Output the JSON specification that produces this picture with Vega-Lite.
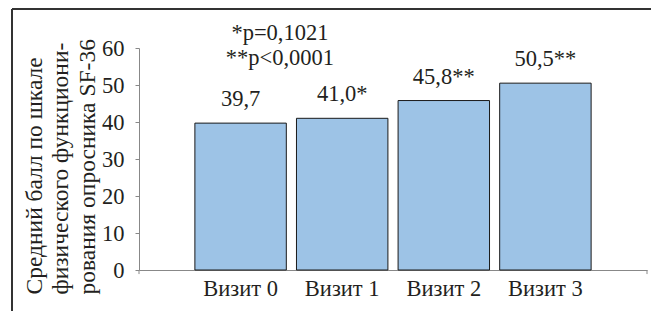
{
  "$schema": "https://vega.github.io/schema/vega-lite/v6.json",
  "width": 508,
  "height": 222,
  "padding": {"left": 11, "top": 8, "right": 0, "bottom": 0},
  "background": "white",
  "config": {
    "view": {"stroke": null},
    "font": "Liberation Serif",
    "axisY": {"values": [0, 10, 20, 30, 40, 50, 60], "tickCount": 7, "labelOverlap": false, "labelFlush": false, "grid": false}
  },
  "data": {"values": [
    {"visit": "Визит 0", "value": 39.7, "label": "39,7"},
    {"visit": "Визит 1", "value": 41.0, "label": "41,0*"},
    {"visit": "Визит 2", "value": 45.8, "label": "45,8**"},
    {"visit": "Визит 3", "value": 50.5, "label": "50,5**"}
  ]},
  "layer": [
    {
      "layer": [
        {
          "mark": {"type": "bar", "fill": "#9DC3E6", "stroke": "#1a1a1a", "strokeWidth": 1},
          "encoding": {
            "x": {"field": "visit", "type": "nominal", "sort": null,
              "scale": {"paddingInner": 0.1, "paddingOuter": 0.55},
              "axis": {"title": null, "labelAngle": 0, "ticks": false, "labelFontSize": 22.5, "labelPadding": 7, "domainColor": "#888888", "labelColor": "#231f20"}},
            "y": {"field": "value", "type": "quantitative",
              "scale": {"domain": [0, 60], "nice": false},
              "axis": {"values": [0, 10, 20, 30, 40, 50, 60], "tickCount": 7, "grid": false, "domainColor": "#888888", "tickColor": "#888888", "tickSize": 4,
                "labelOverlap": false, "labelFlush": false,
                "labelFontSize": 22.5, "labelPadding": 11, "labelColor": "#231f20",
                "title": ["Средний балл по шкале", "физического функциони-", "рования опросника SF-36"],
                "titleFontSize": 23.5, "titleFontWeight": "normal", "titleColor": "#231f20",
                "titleAngle": 270, "titleAlign": "left", "titleBaseline": "top", "titleX": -117, "titleY": 246, "titleLineHeight": 26.5}}
          }
        },
        {
          "mark": {"type": "text", "dy": -17, "baseline": "alphabetic", "fontSize": 22.5, "fontWeight": "normal", "color": "#231f20"},
          "encoding": {
            "x": {"field": "visit", "type": "nominal", "sort": null},
            "y": {"field": "value", "type": "quantitative"},
            "text": {"field": "label"}
          }
        },
        {
          "data": {"values": [{}]},
          "mark": {"type": "text", "text": ["*p=0,1021", "**p<0,0001"], "lineHeight": 25, "align": "center", "baseline": "alphabetic", "fontSize": 22.5, "fontWeight": "normal", "color": "#231f20"},
          "encoding": {
            "x": {"datum": "Визит 0", "type": "nominal", "bandPosition": 0.93},
            "y": {"datum": 62.2, "type": "quantitative"}
          }
        }
      ]
    },
    {
      "data": {"values": [{}]},
      "layer": [
        {
          "mark": {"type": "rule", "stroke": "#333333", "strokeWidth": 2},
          "encoding": {
            "x": {"datum": -0.25, "type": "quantitative", "scale": {"domain": [0, 1]}, "axis": null},
            "x2": {"datum": 1.3},
            "y": {"datum": 70.54, "type": "quantitative", "scale": {"domain": [0, 60], "nice": false}}
          }
        },
        {
          "mark": {"type": "rule", "stroke": "#333333", "strokeWidth": 2},
          "encoding": {
            "x": {"datum": -0.25, "type": "quantitative", "scale": {"domain": [0, 1]}, "axis": null},
            "y": {"datum": 70.54, "type": "quantitative", "scale": {"domain": [0, 60], "nice": false}},
            "y2": {"datum": -15}
          }
        },
        {
          "mark": {"type": "rule", "stroke": "#888888", "strokeWidth": 1},
          "encoding": {
            "x": {"datum": 0, "type": "quantitative", "scale": {"domain": [0, 1]}, "axis": null},
            "y": {"datum": 0, "type": "quantitative", "scale": {"domain": [0, 60], "nice": false}},
            "y2": {"datum": -1.1}
          }
        },
        {
          "mark": {"type": "rule", "stroke": "#888888", "strokeWidth": 1},
          "encoding": {
            "x": {"datum": 1, "type": "quantitative", "scale": {"domain": [0, 1]}, "axis": null},
            "y": {"datum": 0, "type": "quantitative", "scale": {"domain": [0, 60], "nice": false}},
            "y2": {"datum": -1.1}
          }
        }
      ]
    }
  ],
  "resolve": {"scale": {"x": "independent"}, "axis": {"x": "independent"}}
}
